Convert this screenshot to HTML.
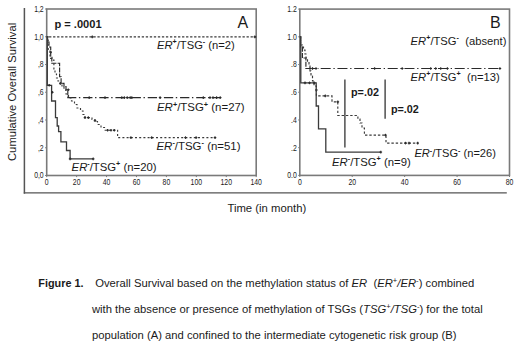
<!DOCTYPE html><html><head><meta charset="utf-8"><style>html,body{margin:0;padding:0;background:#fff;}svg{display:block;}</style></head><body>
<svg width="520" height="347" viewBox="0 0 520 347" font-family='"Liberation Sans", sans-serif'>
<rect width="520" height="347" fill="#fff"/>
<line x1="24.4" y1="8.0" x2="24.4" y2="193.7" stroke="#555" stroke-width="1.5"/>
<line x1="23.8" y1="192.9" x2="506.8" y2="192.9" stroke="#555" stroke-width="1.35"/>
<text transform="translate(16.4,161.0) rotate(-90)" font-size="11.25" fill="#1a1a1a">Cumulative Overall Survival</text>
<text transform="translate(227.40,212.00) scale(0.985,1)" font-size="11.5" fill="#1a1a1a">Time (in month)</text>
<rect x="46.7" y="9.0" width="209.50" height="166.50" fill="none" stroke="#7a7a7a" stroke-width="1.6"/>
<line x1="45.1" y1="175.50" x2="46.7" y2="175.50" stroke="#7a7a7a" stroke-width="1"/>
<text transform="translate(43.70,178.40) scale(0.82,1)" font-size="8.4" fill="#1a1a1a" text-anchor="end">0,0</text>
<line x1="45.1" y1="147.75" x2="46.7" y2="147.75" stroke="#7a7a7a" stroke-width="1"/>
<text transform="translate(43.70,150.65) scale(0.82,1)" font-size="8.4" fill="#1a1a1a" text-anchor="end">,2</text>
<line x1="45.1" y1="120.00" x2="46.7" y2="120.00" stroke="#7a7a7a" stroke-width="1"/>
<text transform="translate(43.70,122.90) scale(0.82,1)" font-size="8.4" fill="#1a1a1a" text-anchor="end">,4</text>
<line x1="45.1" y1="92.25" x2="46.7" y2="92.25" stroke="#7a7a7a" stroke-width="1"/>
<text transform="translate(43.70,95.15) scale(0.82,1)" font-size="8.4" fill="#1a1a1a" text-anchor="end">,6</text>
<line x1="45.1" y1="64.50" x2="46.7" y2="64.50" stroke="#7a7a7a" stroke-width="1"/>
<text transform="translate(43.70,67.40) scale(0.82,1)" font-size="8.4" fill="#1a1a1a" text-anchor="end">,8</text>
<line x1="45.1" y1="36.75" x2="46.7" y2="36.75" stroke="#7a7a7a" stroke-width="1"/>
<text transform="translate(43.70,39.65) scale(0.82,1)" font-size="8.4" fill="#1a1a1a" text-anchor="end">1,0</text>
<line x1="45.1" y1="9.00" x2="46.7" y2="9.00" stroke="#7a7a7a" stroke-width="1"/>
<text transform="translate(43.70,11.90) scale(0.82,1)" font-size="8.4" fill="#1a1a1a" text-anchor="end">1,2</text>
<line x1="46.70" y1="175.5" x2="46.70" y2="177.1" stroke="#7a7a7a" stroke-width="1"/>
<text transform="translate(46.70,184.90) scale(0.82,1)" font-size="8.4" fill="#1a1a1a" text-anchor="middle">0</text>
<line x1="76.63" y1="175.5" x2="76.63" y2="177.1" stroke="#7a7a7a" stroke-width="1"/>
<text transform="translate(76.63,184.90) scale(0.82,1)" font-size="8.4" fill="#1a1a1a" text-anchor="middle">20</text>
<line x1="106.56" y1="175.5" x2="106.56" y2="177.1" stroke="#7a7a7a" stroke-width="1"/>
<text transform="translate(106.56,184.90) scale(0.82,1)" font-size="8.4" fill="#1a1a1a" text-anchor="middle">40</text>
<line x1="136.49" y1="175.5" x2="136.49" y2="177.1" stroke="#7a7a7a" stroke-width="1"/>
<text transform="translate(136.49,184.90) scale(0.82,1)" font-size="8.4" fill="#1a1a1a" text-anchor="middle">60</text>
<line x1="166.41" y1="175.5" x2="166.41" y2="177.1" stroke="#7a7a7a" stroke-width="1"/>
<text transform="translate(166.41,184.90) scale(0.82,1)" font-size="8.4" fill="#1a1a1a" text-anchor="middle">80</text>
<line x1="196.34" y1="175.5" x2="196.34" y2="177.1" stroke="#7a7a7a" stroke-width="1"/>
<text transform="translate(196.34,184.90) scale(0.82,1)" font-size="8.4" fill="#1a1a1a" text-anchor="middle">100</text>
<line x1="226.27" y1="175.5" x2="226.27" y2="177.1" stroke="#7a7a7a" stroke-width="1"/>
<text transform="translate(226.27,184.90) scale(0.82,1)" font-size="8.4" fill="#1a1a1a" text-anchor="middle">120</text>
<line x1="256.20" y1="175.5" x2="256.20" y2="177.1" stroke="#7a7a7a" stroke-width="1"/>
<text transform="translate(256.20,184.90) scale(0.82,1)" font-size="8.4" fill="#1a1a1a" text-anchor="middle">140</text>
<rect x="299.8" y="9.1" width="209.70" height="166.30" fill="none" stroke="#7a7a7a" stroke-width="1.6"/>
<line x1="298.2" y1="175.40" x2="299.8" y2="175.40" stroke="#7a7a7a" stroke-width="1"/>
<text transform="translate(296.80,178.30) scale(0.82,1)" font-size="8.4" fill="#1a1a1a" text-anchor="end">0.0</text>
<line x1="298.2" y1="147.68" x2="299.8" y2="147.68" stroke="#7a7a7a" stroke-width="1"/>
<text transform="translate(296.80,150.58) scale(0.82,1)" font-size="8.4" fill="#1a1a1a" text-anchor="end">.2</text>
<line x1="298.2" y1="119.97" x2="299.8" y2="119.97" stroke="#7a7a7a" stroke-width="1"/>
<text transform="translate(296.80,122.87) scale(0.82,1)" font-size="8.4" fill="#1a1a1a" text-anchor="end">.4</text>
<line x1="298.2" y1="92.25" x2="299.8" y2="92.25" stroke="#7a7a7a" stroke-width="1"/>
<text transform="translate(296.80,95.15) scale(0.82,1)" font-size="8.4" fill="#1a1a1a" text-anchor="end">.6</text>
<line x1="298.2" y1="64.53" x2="299.8" y2="64.53" stroke="#7a7a7a" stroke-width="1"/>
<text transform="translate(296.80,67.43) scale(0.82,1)" font-size="8.4" fill="#1a1a1a" text-anchor="end">.8</text>
<line x1="298.2" y1="36.82" x2="299.8" y2="36.82" stroke="#7a7a7a" stroke-width="1"/>
<text transform="translate(296.80,39.72) scale(0.82,1)" font-size="8.4" fill="#1a1a1a" text-anchor="end">1.0</text>
<line x1="298.2" y1="9.10" x2="299.8" y2="9.10" stroke="#7a7a7a" stroke-width="1"/>
<text transform="translate(296.80,12.00) scale(0.82,1)" font-size="8.4" fill="#1a1a1a" text-anchor="end">1.2</text>
<line x1="299.80" y1="175.4" x2="299.80" y2="177.0" stroke="#7a7a7a" stroke-width="1"/>
<text transform="translate(299.80,184.80) scale(0.82,1)" font-size="8.4" fill="#1a1a1a" text-anchor="middle">0</text>
<line x1="352.23" y1="175.4" x2="352.23" y2="177.0" stroke="#7a7a7a" stroke-width="1"/>
<text transform="translate(352.23,184.80) scale(0.82,1)" font-size="8.4" fill="#1a1a1a" text-anchor="middle">20</text>
<line x1="404.65" y1="175.4" x2="404.65" y2="177.0" stroke="#7a7a7a" stroke-width="1"/>
<text transform="translate(404.65,184.80) scale(0.82,1)" font-size="8.4" fill="#1a1a1a" text-anchor="middle">40</text>
<line x1="457.07" y1="175.4" x2="457.07" y2="177.0" stroke="#7a7a7a" stroke-width="1"/>
<text transform="translate(457.07,184.80) scale(0.82,1)" font-size="8.4" fill="#1a1a1a" text-anchor="middle">60</text>
<line x1="509.50" y1="175.4" x2="509.50" y2="177.0" stroke="#7a7a7a" stroke-width="1"/>
<text transform="translate(509.50,184.80) scale(0.82,1)" font-size="8.4" fill="#1a1a1a" text-anchor="middle">80</text>
<polyline points="46.7,36.9 256.2,36.9" fill="none" stroke="#3a3a3a" stroke-width="1.2" stroke-dasharray="2.3,1.73" stroke-dashoffset="1.67"/>
<line x1="91.0" y1="36.9" x2="93.6" y2="36.9" stroke="#2a2a2a" stroke-width="1.1"/>
<line x1="92.3" y1="35.6" x2="92.3" y2="38.199999999999996" stroke="#2a2a2a" stroke-width="1.1"/>
<line x1="253.5" y1="36.9" x2="256.1" y2="36.9" stroke="#2a2a2a" stroke-width="1.1"/>
<line x1="254.8" y1="35.6" x2="254.8" y2="38.199999999999996" stroke="#2a2a2a" stroke-width="1.1"/>
<polyline points="46.7,36.9 47.6,36.9 47.6,42.0 49.0,42.0 49.0,47.0 50.7,47.0 50.7,58.4 51.8,58.4 51.8,63.2 59.6,63.2 59.6,76.7 61.1,76.7 61.1,83.4 64.0,83.4 64.0,86.5 66.0,86.5 66.0,89.7 67.8,89.7 67.8,97.6 71.0,97.6" fill="none" stroke="#2a2a2a" stroke-width="1.15" stroke-dasharray="5,1.2" stroke-dashoffset="0"/>
<polyline points="71.0,97.6 220.2,97.6" fill="none" stroke="#2a2a2a" stroke-width="1.15" stroke-dasharray="9.3,2.6,1.4,2.85" stroke-dashoffset="4.0"/>
<line x1="49.4" y1="52.2" x2="52.0" y2="52.2" stroke="#2a2a2a" stroke-width="1.1"/>
<line x1="50.7" y1="50.900000000000006" x2="50.7" y2="53.5" stroke="#2a2a2a" stroke-width="1.1"/>
<line x1="59.2" y1="83.4" x2="61.8" y2="83.4" stroke="#2a2a2a" stroke-width="1.1"/>
<line x1="60.5" y1="82.10000000000001" x2="60.5" y2="84.7" stroke="#2a2a2a" stroke-width="1.1"/>
<line x1="67.0" y1="89.7" x2="69.6" y2="89.7" stroke="#2a2a2a" stroke-width="1.1"/>
<line x1="68.3" y1="88.4" x2="68.3" y2="91.0" stroke="#2a2a2a" stroke-width="1.1"/>
<line x1="87.9" y1="97.6" x2="90.5" y2="97.6" stroke="#2a2a2a" stroke-width="1.1"/>
<line x1="89.2" y1="96.3" x2="89.2" y2="98.89999999999999" stroke="#2a2a2a" stroke-width="1.1"/>
<line x1="103.7" y1="97.6" x2="106.3" y2="97.6" stroke="#2a2a2a" stroke-width="1.1"/>
<line x1="105" y1="96.3" x2="105" y2="98.89999999999999" stroke="#2a2a2a" stroke-width="1.1"/>
<line x1="120.5" y1="97.6" x2="123.1" y2="97.6" stroke="#2a2a2a" stroke-width="1.1"/>
<line x1="121.8" y1="96.3" x2="121.8" y2="98.89999999999999" stroke="#2a2a2a" stroke-width="1.1"/>
<line x1="123.0" y1="97.6" x2="125.6" y2="97.6" stroke="#2a2a2a" stroke-width="1.1"/>
<line x1="124.3" y1="96.3" x2="124.3" y2="98.89999999999999" stroke="#2a2a2a" stroke-width="1.1"/>
<line x1="125.9" y1="97.6" x2="128.5" y2="97.6" stroke="#2a2a2a" stroke-width="1.1"/>
<line x1="127.2" y1="96.3" x2="127.2" y2="98.89999999999999" stroke="#2a2a2a" stroke-width="1.1"/>
<line x1="128.9" y1="97.6" x2="131.5" y2="97.6" stroke="#2a2a2a" stroke-width="1.1"/>
<line x1="130.2" y1="96.3" x2="130.2" y2="98.89999999999999" stroke="#2a2a2a" stroke-width="1.1"/>
<line x1="130.5" y1="97.6" x2="133.1" y2="97.6" stroke="#2a2a2a" stroke-width="1.1"/>
<line x1="131.8" y1="96.3" x2="131.8" y2="98.89999999999999" stroke="#2a2a2a" stroke-width="1.1"/>
<line x1="158.8" y1="97.6" x2="161.4" y2="97.6" stroke="#2a2a2a" stroke-width="1.1"/>
<line x1="160.1" y1="96.3" x2="160.1" y2="98.89999999999999" stroke="#2a2a2a" stroke-width="1.1"/>
<line x1="202.0" y1="97.6" x2="204.6" y2="97.6" stroke="#2a2a2a" stroke-width="1.1"/>
<line x1="203.3" y1="96.3" x2="203.3" y2="98.89999999999999" stroke="#2a2a2a" stroke-width="1.1"/>
<line x1="208.7" y1="97.6" x2="211.3" y2="97.6" stroke="#2a2a2a" stroke-width="1.1"/>
<line x1="210" y1="96.3" x2="210" y2="98.89999999999999" stroke="#2a2a2a" stroke-width="1.1"/>
<line x1="211.7" y1="97.6" x2="214.3" y2="97.6" stroke="#2a2a2a" stroke-width="1.1"/>
<line x1="213" y1="96.3" x2="213" y2="98.89999999999999" stroke="#2a2a2a" stroke-width="1.1"/>
<line x1="215.3" y1="97.6" x2="217.9" y2="97.6" stroke="#2a2a2a" stroke-width="1.1"/>
<line x1="216.6" y1="96.3" x2="216.6" y2="98.89999999999999" stroke="#2a2a2a" stroke-width="1.1"/>
<line x1="218.9" y1="97.6" x2="221.5" y2="97.6" stroke="#2a2a2a" stroke-width="1.1"/>
<line x1="220.2" y1="96.3" x2="220.2" y2="98.89999999999999" stroke="#2a2a2a" stroke-width="1.1"/>
<polyline points="46.7,36.9 48.2,36.9 48.2,50.0 50.0,50.0 50.0,56.0 52.0,56.0 52.0,60.0 53.9,60.0 53.9,70.0 55.0,70.0 55.0,74.0 56.5,74.0 56.5,78.0 58.0,78.0 58.0,81.0 60.0,81.0 60.0,84.0 62.0,84.0 62.0,87.0 64.0,87.0 64.0,90.0 66.0,90.0 66.0,94.0 68.5,94.0 68.5,98.0 71.5,98.0 71.5,101.0 74.5,101.0 74.5,104.5 77.0,104.5 77.0,108.0 80.5,108.0 80.5,111.0 83.0,111.0 83.0,114.5 85.0,114.5 85.0,117.6 92.0,117.6 92.0,119.5 95.0,119.5 95.0,121.5 97.5,121.5 97.5,124.5 101.0,124.5 101.0,127.5 104.5,127.5 104.5,130.2 117.6,130.2 117.6,137.6 216.0,137.6" fill="none" stroke="#3a3a3a" stroke-width="1.15" stroke-dasharray="2,2.2" stroke-dashoffset="0"/>
<line x1="83.7" y1="117.6" x2="86.3" y2="117.6" stroke="#2a2a2a" stroke-width="1.1"/>
<line x1="85" y1="116.3" x2="85" y2="118.89999999999999" stroke="#2a2a2a" stroke-width="1.1"/>
<line x1="87.0" y1="117.6" x2="89.6" y2="117.6" stroke="#2a2a2a" stroke-width="1.1"/>
<line x1="88.3" y1="116.3" x2="88.3" y2="118.89999999999999" stroke="#2a2a2a" stroke-width="1.1"/>
<line x1="93.7" y1="120.7" x2="96.3" y2="120.7" stroke="#2a2a2a" stroke-width="1.1"/>
<line x1="95" y1="119.4" x2="95" y2="122.0" stroke="#2a2a2a" stroke-width="1.1"/>
<line x1="106.3" y1="130.2" x2="108.9" y2="130.2" stroke="#2a2a2a" stroke-width="1.1"/>
<line x1="107.6" y1="128.89999999999998" x2="107.6" y2="131.5" stroke="#2a2a2a" stroke-width="1.1"/>
<line x1="109.7" y1="130.2" x2="112.3" y2="130.2" stroke="#2a2a2a" stroke-width="1.1"/>
<line x1="111" y1="128.89999999999998" x2="111" y2="131.5" stroke="#2a2a2a" stroke-width="1.1"/>
<line x1="113.0" y1="130.2" x2="115.6" y2="130.2" stroke="#2a2a2a" stroke-width="1.1"/>
<line x1="114.3" y1="128.89999999999998" x2="114.3" y2="131.5" stroke="#2a2a2a" stroke-width="1.1"/>
<line x1="129.6" y1="137.6" x2="132.2" y2="137.6" stroke="#2a2a2a" stroke-width="1.1"/>
<line x1="130.9" y1="136.29999999999998" x2="130.9" y2="138.9" stroke="#2a2a2a" stroke-width="1.1"/>
<line x1="150.4" y1="137.6" x2="153.0" y2="137.6" stroke="#2a2a2a" stroke-width="1.1"/>
<line x1="151.7" y1="136.29999999999998" x2="151.7" y2="138.9" stroke="#2a2a2a" stroke-width="1.1"/>
<line x1="184.2" y1="137.6" x2="186.8" y2="137.6" stroke="#2a2a2a" stroke-width="1.1"/>
<line x1="185.5" y1="136.29999999999998" x2="185.5" y2="138.9" stroke="#2a2a2a" stroke-width="1.1"/>
<line x1="194.8" y1="137.6" x2="197.4" y2="137.6" stroke="#2a2a2a" stroke-width="1.1"/>
<line x1="196.1" y1="136.29999999999998" x2="196.1" y2="138.9" stroke="#2a2a2a" stroke-width="1.1"/>
<line x1="213.7" y1="137.6" x2="216.3" y2="137.6" stroke="#2a2a2a" stroke-width="1.1"/>
<line x1="215" y1="136.29999999999998" x2="215" y2="138.9" stroke="#2a2a2a" stroke-width="1.1"/>
<polyline points="46.7,36.9 47.3,36.9 47.3,85.3 51.6,85.3 51.6,101.0 55.5,101.0 55.5,117.6 57.2,117.6 57.2,126.0 58.6,126.0 58.6,131.7 60.9,131.7 60.9,141.8 66.5,141.8 66.5,150.5 70.1,150.5 70.1,158.9 93.2,158.9" fill="none" stroke="#3a3a3a" stroke-width="1.3"/>
<line x1="47.9" y1="85.3" x2="50.5" y2="85.3" stroke="#2a2a2a" stroke-width="1.1"/>
<line x1="49.2" y1="84.0" x2="49.2" y2="86.6" stroke="#2a2a2a" stroke-width="1.1"/>
<line x1="51.0" y1="92.3" x2="53.6" y2="92.3" stroke="#2a2a2a" stroke-width="1.1"/>
<line x1="52.3" y1="91.0" x2="52.3" y2="93.6" stroke="#2a2a2a" stroke-width="1.1"/>
<line x1="68.8" y1="158.9" x2="71.4" y2="158.9" stroke="#2a2a2a" stroke-width="1.1"/>
<line x1="70.1" y1="157.6" x2="70.1" y2="160.20000000000002" stroke="#2a2a2a" stroke-width="1.1"/>
<line x1="91.9" y1="158.9" x2="94.5" y2="158.9" stroke="#2a2a2a" stroke-width="1.1"/>
<line x1="93.2" y1="157.6" x2="93.2" y2="160.20000000000002" stroke="#2a2a2a" stroke-width="1.1"/>
<text transform="translate(54.40,27.60) scale(1.02,1)" font-size="10.9" fill="#1a1a1a" font-weight="bold">p = .0001</text>
<text transform="translate(237.50,28.40) scale(1.0,1)" font-size="16.0" fill="#1a1a1a">A</text>
<text transform="translate(157.0,48.5) scale(1.056,1)" font-size="10.6" fill="#1a1a1a" xml:space="preserve"><tspan font-style="italic">ER</tspan><tspan font-size="6.78" font-weight="bold" dy="-4.66">+</tspan><tspan dy="4.66">/TSG</tspan><tspan font-size="6.78" font-weight="bold" dy="-4.66">-</tspan><tspan dy="4.66"> (n=2)</tspan></text>
<text transform="translate(157.0,111.3) scale(1.08,1)" font-size="10.6" fill="#1a1a1a" xml:space="preserve"><tspan font-style="italic">ER</tspan><tspan font-size="6.78" font-weight="bold" dy="-4.66">+</tspan><tspan dy="4.66">/TSG</tspan><tspan font-size="6.78" font-weight="bold" dy="-4.66">+</tspan><tspan dy="4.66"> (n=27)</tspan></text>
<text transform="translate(156.5,150.0) scale(1.08,1)" font-size="10.6" fill="#1a1a1a" xml:space="preserve"><tspan font-style="italic">ER</tspan><tspan font-size="6.78" font-weight="bold" dy="-4.66">-</tspan><tspan dy="4.66">/TSG</tspan><tspan font-size="6.78" font-weight="bold" dy="-4.66">-</tspan><tspan dy="4.66"> (n=51)</tspan></text>
<text transform="translate(71.6,170.9) scale(1.068,1)" font-size="10.6" fill="#1a1a1a" xml:space="preserve"><tspan font-style="italic">ER</tspan><tspan font-size="6.78" font-weight="bold" dy="-4.66">-</tspan><tspan dy="4.66">/TSG</tspan><tspan font-size="6.78" font-weight="bold" dy="-4.66">+</tspan><tspan dy="4.66"> (n=20)</tspan></text>
<polyline points="299.8,36.9 300.6,36.9 300.6,47.1 302.4,47.1 302.4,58.0 305.9,58.0 305.9,68.5 318.5,68.5" fill="none" stroke="#2a2a2a" stroke-width="1.15" stroke-dasharray="5,1.2" stroke-dashoffset="0"/>
<polyline points="318.5,68.5 499.9,68.5" fill="none" stroke="#2a2a2a" stroke-width="1.15" stroke-dasharray="10,2.7,1.35,2.7" stroke-dashoffset="14.55"/>
<line x1="308.7" y1="68.5" x2="311.3" y2="68.5" stroke="#2a2a2a" stroke-width="1.1"/>
<line x1="310" y1="67.2" x2="310" y2="69.8" stroke="#2a2a2a" stroke-width="1.1"/>
<line x1="311.2" y1="68.5" x2="313.8" y2="68.5" stroke="#2a2a2a" stroke-width="1.1"/>
<line x1="312.5" y1="67.2" x2="312.5" y2="69.8" stroke="#2a2a2a" stroke-width="1.1"/>
<line x1="314.7" y1="68.5" x2="317.3" y2="68.5" stroke="#2a2a2a" stroke-width="1.1"/>
<line x1="316" y1="67.2" x2="316" y2="69.8" stroke="#2a2a2a" stroke-width="1.1"/>
<line x1="373.3" y1="68.5" x2="375.9" y2="68.5" stroke="#2a2a2a" stroke-width="1.1"/>
<line x1="374.6" y1="67.2" x2="374.6" y2="69.8" stroke="#2a2a2a" stroke-width="1.1"/>
<line x1="400.9" y1="68.5" x2="403.5" y2="68.5" stroke="#2a2a2a" stroke-width="1.1"/>
<line x1="402.2" y1="67.2" x2="402.2" y2="69.8" stroke="#2a2a2a" stroke-width="1.1"/>
<line x1="429.4" y1="68.5" x2="432.0" y2="68.5" stroke="#2a2a2a" stroke-width="1.1"/>
<line x1="430.7" y1="67.2" x2="430.7" y2="69.8" stroke="#2a2a2a" stroke-width="1.1"/>
<line x1="434.4" y1="68.5" x2="437.0" y2="68.5" stroke="#2a2a2a" stroke-width="1.1"/>
<line x1="435.7" y1="67.2" x2="435.7" y2="69.8" stroke="#2a2a2a" stroke-width="1.1"/>
<line x1="439.4" y1="68.5" x2="442.0" y2="68.5" stroke="#2a2a2a" stroke-width="1.1"/>
<line x1="440.7" y1="67.2" x2="440.7" y2="69.8" stroke="#2a2a2a" stroke-width="1.1"/>
<line x1="446.1" y1="68.5" x2="448.7" y2="68.5" stroke="#2a2a2a" stroke-width="1.1"/>
<line x1="447.4" y1="67.2" x2="447.4" y2="69.8" stroke="#2a2a2a" stroke-width="1.1"/>
<line x1="498.6" y1="68.5" x2="501.2" y2="68.5" stroke="#2a2a2a" stroke-width="1.1"/>
<line x1="499.9" y1="67.2" x2="499.9" y2="69.8" stroke="#2a2a2a" stroke-width="1.1"/>
<polyline points="299.8,36.9 300.6,36.9 300.6,45.0 302.4,45.0 302.4,47.1 303.5,47.1 303.5,50.0 305.0,50.0 305.0,54.0 306.0,54.0 306.0,58.0 307.5,58.0 307.5,62.0 309.0,62.0 309.0,66.0 310.0,66.0 310.0,71.0 311.0,71.0 311.0,76.0 312.5,76.0 312.5,81.0 314.0,81.0 314.0,86.0 316.4,86.0 316.4,90.0 316.4,95.9 332.0,95.9 332.0,101.8 337.8,101.8 337.8,115.5 357.9,115.5 357.9,119.0 360.0,119.0 360.0,123.0 362.0,123.0 362.0,128.0 364.4,128.0 364.4,135.1 386.0,135.1 386.0,143.1 418.0,143.1" fill="none" stroke="#3a3a3a" stroke-width="1.15" stroke-dasharray="2.4,1.9" stroke-dashoffset="0"/>
<line x1="315.1" y1="90" x2="317.7" y2="90" stroke="#2a2a2a" stroke-width="1.1"/>
<line x1="316.4" y1="88.7" x2="316.4" y2="91.3" stroke="#2a2a2a" stroke-width="1.1"/>
<line x1="324.0" y1="95.9" x2="326.6" y2="95.9" stroke="#2a2a2a" stroke-width="1.1"/>
<line x1="325.3" y1="94.60000000000001" x2="325.3" y2="97.2" stroke="#2a2a2a" stroke-width="1.1"/>
<line x1="336.5" y1="101.8" x2="339.1" y2="101.8" stroke="#2a2a2a" stroke-width="1.1"/>
<line x1="337.8" y1="100.5" x2="337.8" y2="103.1" stroke="#2a2a2a" stroke-width="1.1"/>
<line x1="384.2" y1="135.1" x2="386.8" y2="135.1" stroke="#2a2a2a" stroke-width="1.1"/>
<line x1="385.5" y1="133.79999999999998" x2="385.5" y2="136.4" stroke="#2a2a2a" stroke-width="1.1"/>
<line x1="404.2" y1="143.1" x2="406.8" y2="143.1" stroke="#2a2a2a" stroke-width="1.1"/>
<line x1="405.5" y1="141.79999999999998" x2="405.5" y2="144.4" stroke="#2a2a2a" stroke-width="1.1"/>
<line x1="407.7" y1="143.1" x2="410.3" y2="143.1" stroke="#2a2a2a" stroke-width="1.1"/>
<line x1="409" y1="141.79999999999998" x2="409" y2="144.4" stroke="#2a2a2a" stroke-width="1.1"/>
<line x1="416.4" y1="143.1" x2="419.0" y2="143.1" stroke="#2a2a2a" stroke-width="1.1"/>
<line x1="417.7" y1="141.79999999999998" x2="417.7" y2="144.4" stroke="#2a2a2a" stroke-width="1.1"/>
<polyline points="299.8,36.9 300.8,36.9 300.8,82.9 316.2,82.9 316.2,106.0 318.5,106.0 318.5,128.8 325.8,128.8 325.8,152.1 380.8,152.1" fill="none" stroke="#3a3a3a" stroke-width="1.3"/>
<line x1="303.7" y1="82.9" x2="306.3" y2="82.9" stroke="#2a2a2a" stroke-width="1.1"/>
<line x1="305" y1="81.60000000000001" x2="305" y2="84.2" stroke="#2a2a2a" stroke-width="1.1"/>
<line x1="308.2" y1="82.9" x2="310.8" y2="82.9" stroke="#2a2a2a" stroke-width="1.1"/>
<line x1="309.5" y1="81.60000000000001" x2="309.5" y2="84.2" stroke="#2a2a2a" stroke-width="1.1"/>
<line x1="312.9" y1="82.9" x2="315.5" y2="82.9" stroke="#2a2a2a" stroke-width="1.1"/>
<line x1="314.2" y1="81.60000000000001" x2="314.2" y2="84.2" stroke="#2a2a2a" stroke-width="1.1"/>
<line x1="379.5" y1="152.1" x2="382.1" y2="152.1" stroke="#2a2a2a" stroke-width="1.1"/>
<line x1="380.8" y1="150.79999999999998" x2="380.8" y2="153.4" stroke="#2a2a2a" stroke-width="1.1"/>
<line x1="344.9" y1="79.5" x2="344.9" y2="147.6" stroke="#333" stroke-width="1.3"/>
<line x1="385.1" y1="79.5" x2="385.1" y2="118.8" stroke="#333" stroke-width="1.3"/>
<text x="351.0" y="95.9" font-size="10.8" font-weight="bold" fill="#1a1a1a">p=.02</text>
<text x="390.9" y="113.4" font-size="10.8" font-weight="bold" fill="#1a1a1a">p=.02</text>
<text transform="translate(490.00,27.60) scale(1.0,1)" font-size="16.0" fill="#1a1a1a">B</text>
<text transform="translate(410.6,44.8) scale(1.061,1)" font-size="10.6" fill="#1a1a1a" xml:space="preserve"><tspan font-style="italic">ER</tspan><tspan font-size="6.78" font-weight="bold" dy="-4.66">+</tspan><tspan dy="4.66">/TSG</tspan><tspan font-size="6.78" font-weight="bold" dy="-4.66">-</tspan><tspan dy="4.66">  (absent)</tspan></text>
<text transform="translate(410.6,80.7) scale(1.06,1)" font-size="10.6" fill="#1a1a1a" xml:space="preserve"><tspan font-style="italic">ER</tspan><tspan font-size="6.78" font-weight="bold" dy="-4.66">+</tspan><tspan dy="4.66">/TSG</tspan><tspan font-size="6.78" font-weight="bold" dy="-4.66">+</tspan><tspan dy="4.66">  (n=13)</tspan></text>
<text transform="translate(414.4,157.3) scale(1.047,1)" font-size="10.6" fill="#1a1a1a" xml:space="preserve"><tspan font-style="italic">ER</tspan><tspan font-size="6.78" font-weight="bold" dy="-4.66">-</tspan><tspan dy="4.66">/TSG</tspan><tspan font-size="6.78" font-weight="bold" dy="-4.66">-</tspan><tspan dy="4.66"> (n=26)</tspan></text>
<text transform="translate(332.0,165.6) scale(1.069,1)" font-size="10.6" fill="#1a1a1a" xml:space="preserve"><tspan font-style="italic">ER</tspan><tspan font-size="6.78" font-weight="bold" dy="-4.66">-</tspan><tspan dy="4.66">/TSG</tspan><tspan font-size="6.78" font-weight="bold" dy="-4.66">+</tspan><tspan dy="4.66"> (n=9)</tspan></text>
<text transform="translate(38.30,287.30) scale(0.965,1)" font-size="11.25" fill="#1a1a1a" font-weight="bold">Figure 1.</text>
<text x="95.2" y="287.1" font-size="11.25" fill="#1a1a1a" xml:space="preserve">Overall Survival based on the methylation status of <tspan font-style="italic">ER</tspan>  (<tspan font-style="italic">ER</tspan><tspan font-size="7.65" dy="-4.28">+</tspan><tspan font-style="italic" dy="4.28">/ER</tspan><tspan font-size="7.65" dy="-4.28">-</tspan><tspan dy="4.28">) combined</tspan></text>
<text x="91.9" y="313.0" font-size="11.25" fill="#1a1a1a">with the absence or presence of methylation of TSGs (<tspan font-style="italic">TSG</tspan><tspan font-size="7.65" dy="-4.28">+</tspan><tspan font-style="italic" dy="4.28">/TSG</tspan><tspan font-size="7.65" dy="-4.28">-</tspan><tspan dy="4.28">) for the total</tspan></text>
<text x="91.9" y="338.6" font-size="11.25" fill="#1a1a1a">population (A) and confined to the intermediate cytogenetic risk group (B)</text>
</svg></body></html>
